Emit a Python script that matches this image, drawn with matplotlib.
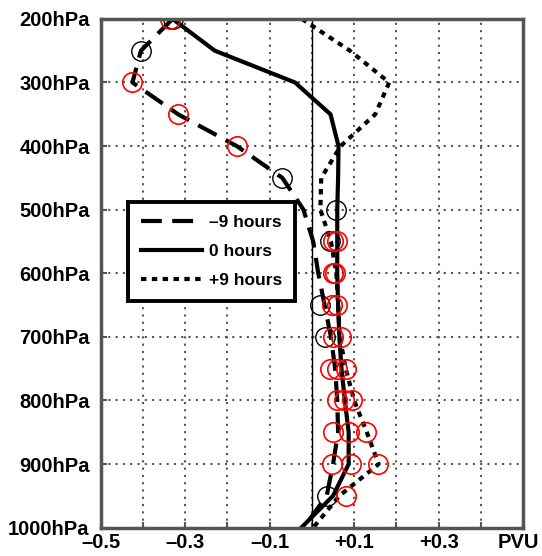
import numpy as np
import matplotlib
matplotlib.use('Agg')
import matplotlib.pyplot as plt
from matplotlib.transforms import ScaledTranslation

plt.rcParams['font.family'] = ['Liberation Sans', 'DejaVu Sans']
plt.rcParams['font.weight'] = 'bold'

# pressure levels (hPa)
levels = [200, 250, 300, 350, 400, 450, 500, 550, 600, 650,
          700, 750, 800, 850, 900, 950, 1000]

# PV anomaly profiles (PVU)
minus9 = [-0.33, -0.405, -0.425, -0.317, -0.178, -0.07, -0.02, 0.003, 0.015, 0.03,
          0.045, 0.055, 0.06, 0.062, 0.05, 0.035, -0.02]
zero = [-0.33, -0.23, -0.04, 0.044, 0.063, 0.062, 0.06, 0.06, 0.06, 0.062,
        0.065, 0.07, 0.078, 0.087, 0.087, 0.05, -0.025]
plus9 = [-0.024, 0.09, 0.183, 0.15, 0.068, 0.022, 0.02, 0.045, 0.058, 0.062,
         0.066, 0.08, 0.1, 0.13, 0.158, 0.065, 0.003]

# significance circles
red_p = [200, 300, 350, 400, 550, 550, 600, 600, 650, 650, 700, 700,
         750, 750, 750, 800, 800, 800, 850, 850, 850, 900, 900, 900, 950]
red_x = [-0.335, -0.425, -0.317, -0.178, 0.05, 0.06, 0.05, 0.055, 0.048, 0.06, 0.05, 0.068,
         0.044, 0.06, 0.08, 0.06, 0.075, 0.096, 0.051, 0.089, 0.128, 0.048, 0.092, 0.156, 0.08]
black_p = [200, 250, 450, 500, 550, 650, 700, 950]
black_x = [-0.33, -0.405, -0.07, 0.056, 0.044, 0.02, 0.032, 0.036]

xticks = [-0.5, -0.4, -0.3, -0.2, -0.1, 0.0, 0.1, 0.2, 0.3, 0.4, 0.5]
xticklabels = ['–0.5', '', '–0.3', '', '–0.1', '', '+0.1', '', '+0.3', '', 'PVU']
yticks = [200, 300, 400, 500, 600, 700, 800, 900, 1000]
yticklabels = ['%dhPa' % p for p in yticks]

fig = plt.figure(figsize=(5.42, 5.56), dpi=100)
ax = fig.add_axes([0.186, 0.051, 0.779, 0.915])

ax.set_xlim(-0.5, 0.5)
ax.set_ylim(1000, 200)
ax.set_xticks(xticks)
ax.set_xticklabels(xticklabels, fontsize=14.5, fontweight='bold')
ax.set_yticks(yticks)
ax.set_yticklabels(yticklabels, fontsize=14.5, fontweight='bold')
ax.tick_params(axis='x', pad=4)
ax.tick_params(axis='y', pad=8)
ax.tick_params(direction='in', length=4, width=1.5, color='#555555')
ax.grid(True, linestyle=(0, (1, 2.5)), color='#555555', linewidth=1.5)
for s in ax.spines.values():
    s.set_color('#555555')
    s.set_linewidth(2.5)

# nudge the PVU label so it stays inside the figure
pvu = ax.get_xticklabels()[-1]
pvu.set_transform(pvu.get_transform() + ScaledTranslation(-3 / 72, 0, fig.dpi_scale_trans))

ax.axvline(0, color='black', linewidth=1)

ax.plot(minus9, levels, color='black', linewidth=3, dashes=(5, 2.5), label='–9 hours')
ax.plot(zero, levels, color='black', linewidth=3, label='0 hours')
ax.plot(plus9, levels, color='black', linewidth=3, dashes=(1.3, 1.3), label='+9 hours')

ax.plot(black_x, black_p, 'o', mfc='none', mec='black', ms=14, mew=1)
ax.plot(red_x, red_p, 'o', mfc='none', mec='red', ms=14, mew=1.2)

leg = ax.legend(loc='upper left', bbox_to_anchor=(0.064, 0.64), fancybox=False,
                framealpha=1, edgecolor='black', prop={'size': 12.5, 'weight': 'bold'},
                handlelength=3.5, handletextpad=0.4, borderpad=0.75, labelspacing=0.8,
                borderaxespad=0)
leg.get_frame().set_linewidth(2.8)

fig.savefig('out.png', dpi=100)
